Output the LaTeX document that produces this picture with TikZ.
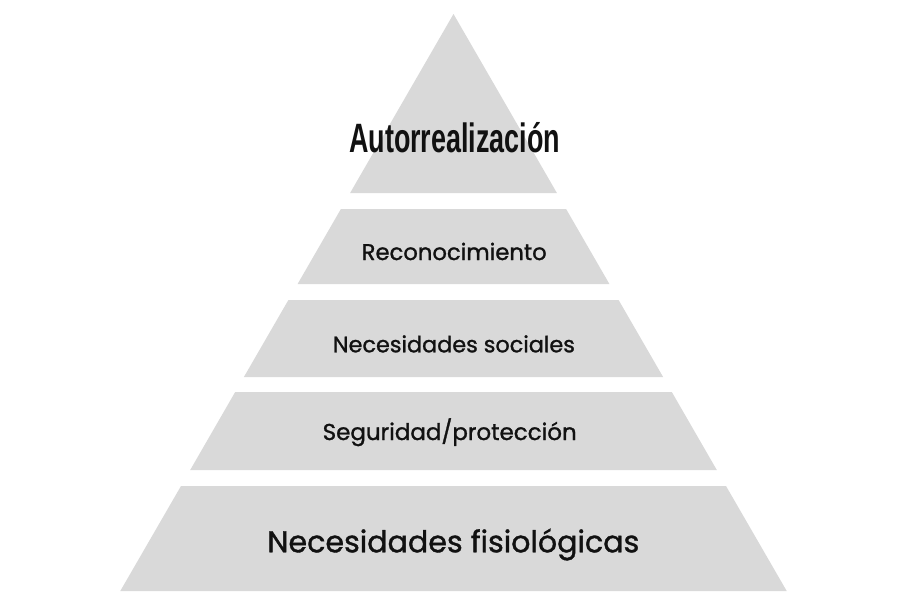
\documentclass[tikz,border=0pt]{standalone}
\usepackage{fontspec}
\setmainfont{Poppins}[FakeBold=1.2]
\newfontfamily\titlefont{Liberation Sans}
\definecolor{bandgray}{HTML}{D9D9D9}
\definecolor{inkc}{HTML}{111111}
\newcommand\fitwidth[2]{\resizebox{#1}{!}{#2}}
\tikzset{
  band/.style={fill=bandgray, draw=none},
  lbl/.style={anchor=base, inner sep=0pt, text=inkc},
}
\begin{document}
\begin{tikzpicture}[x=1pt,y=-1pt]
\useasboundingbox (0,0) rectangle (900,600);
\fill[white] (0,0) rectangle (900,600);
% pyramid bands
\fill[band] (453.5,14) -- (556.9,193) -- (350.1,193) -- cycle;
\fill[band] (340.9,209) -- (566.1,209) -- (609.4,284) -- (297.6,284) -- cycle;
\fill[band] (288.4,300) -- (618.6,300) -- (663.1,377) -- (243.9,377) -- cycle;
\fill[band] (235.2,392) -- (671.8,392) -- (716.8,470) -- (190.2,470) -- cycle;
\fill[band] (181.0,486) -- (726.0,486) -- (786.7,591) -- (120.3,591) -- cycle;
% labels
\node[lbl] (auto) at (454.7,152.7) {\resizebox{211pt}{\height}{\titlefont\bfseries\fontsize{41}{41}\selectfont Autorrealización}};
\node[lbl] (reco) at (454.2,260) {\fitwidth{185pt}{Reconocimiento}};
\node[lbl] (soc) at (453.9,352.3) {\fitwidth{242pt}{Necesidades sociales}};
\node[lbl] (seg) at (449.7,440) {\fitwidth{254pt}{Seguridad/protección}};
\node[lbl] (fis) at (453.3,552.3) {\fitwidth{372pt}{Necesidades fisiológicas}};
\end{tikzpicture}
\end{document}
